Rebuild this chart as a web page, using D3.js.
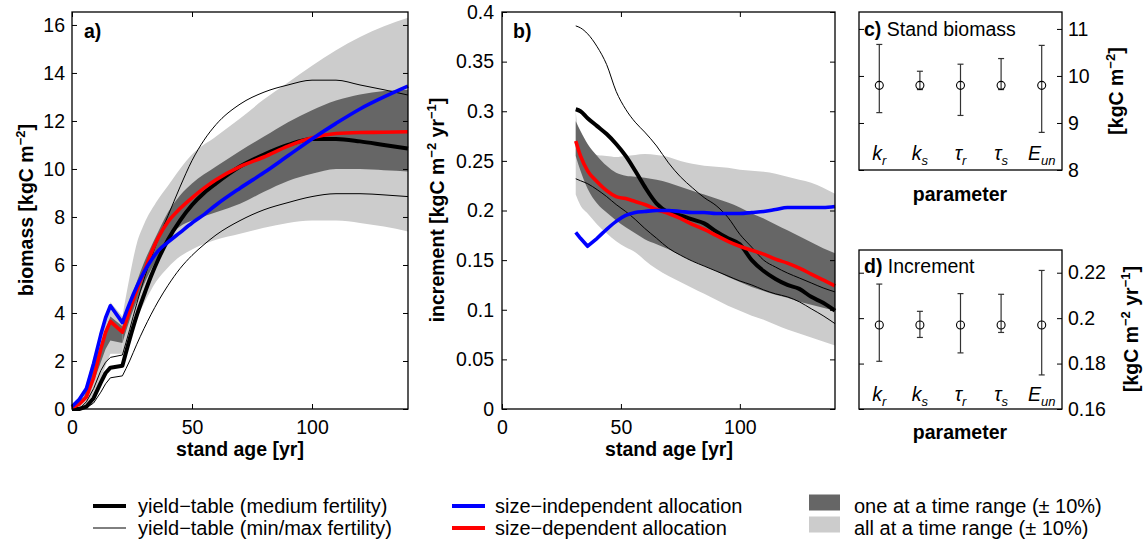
<!DOCTYPE html>
<html><head><meta charset="utf-8">
<script src="https://cdn.jsdelivr.net/npm/d3@7"></script>
<style>body{margin:0;background:#fff}svg{display:block}</style>
</head><body>
<script>
// ---------------- DATA ----------------
// Panel a: biomass vs stand age
const agesA = [0,3,6,9,12,14,16,21,24,27,30,33,36,40,45,50,55,60,70,80,90,100,110,120,130,140];
const ytMedA = [0,0,0.1,0.45,1.1,1.5,1.72,1.8,2.9,3.9,4.75,5.55,6.25,7.05,7.85,8.5,9.0,9.4,10.1,10.6,11.0,11.25,11.25,11.15,11.0,10.85];
const ytMaxA = [0,0,0.3,0.85,1.6,1.95,2.15,2.25,3.3,4.4,5.4,6.3,7.1,8.05,9.25,10.35,11.2,11.85,12.7,13.2,13.5,13.7,13.7,13.5,13.3,13.08];
const ytMinA = [0,0,0.05,0.25,0.7,1.05,1.3,1.38,2.0,2.7,3.35,3.95,4.5,5.15,5.85,6.4,6.85,7.25,7.85,8.3,8.6,8.85,8.97,8.97,8.92,8.85];
const sizeIndepA = [0.1,0.4,0.85,1.9,3.1,3.8,4.3,3.6,4.4,5.1,5.7,6.2,6.6,6.95,7.35,7.75,8.1,8.5,9.2,9.85,10.55,11.25,11.9,12.5,13.0,13.45];
const sizeDepA = [0.05,0.2,0.5,1.3,2.5,3.2,3.65,3.2,4.1,4.95,5.7,6.5,7.15,7.8,8.35,8.8,9.2,9.55,10.1,10.5,10.95,11.3,11.48,11.52,11.53,11.55];
const bandAgesA = [0,5,10,14,16,21,24,27,30,35,40,45,50,60,70,80,90,100,110,120,130,140];
const allTopA = [0.2,0.7,2.5,3.9,4.45,3.85,5.5,6.9,7.7,8.6,9.3,10.0,10.6,11.35,12.1,12.9,13.6,14.3,14.95,15.5,15.95,16.3];
const allBotA = [0,0.1,0.7,1.8,2.3,2.3,3.0,3.8,4.4,5.3,5.9,6.35,6.65,7.05,7.3,7.55,7.75,7.85,7.85,7.75,7.6,7.4];
const oneTopA = [0.1,0.5,2.1,3.3,3.85,3.45,4.4,5.3,6.1,7.2,8.2,8.9,9.4,10.1,10.75,11.35,11.95,12.45,12.85,13.1,13.25,13.3];
const oneBotA = [0.05,0.3,1.4,2.5,2.85,2.75,3.7,4.5,5.2,6.2,7.1,7.6,7.85,8.2,8.55,9.05,9.5,9.8,10.0,10.0,9.95,9.9];

// Panel b: increment vs stand age
const agesB = [31,33,36,40,44,48,52,56,60,65,70,75,80,85,90,95,100,105,110,115,120,125,130,135,140];
const ytMedB = [0.302,0.300,0.293,0.285,0.277,0.267,0.255,0.240,0.224,0.207,0.198,0.195,0.191,0.187,0.179,0.172,0.166,0.150,0.139,0.131,0.125,0.121,0.113,0.107,0.099];
const ytMaxB = [0.386,0.384,0.378,0.365,0.347,0.320,0.302,0.289,0.279,0.265,0.248,0.234,0.223,0.213,0.205,0.193,0.176,0.163,0.150,0.143,0.137,0.132,0.127,0.122,0.118];
const ytMinB = [0.232,0.230,0.227,0.221,0.214,0.206,0.199,0.191,0.182,0.172,0.162,0.155,0.149,0.144,0.139,0.134,0.129,0.125,0.120,0.116,0.113,0.108,0.101,0.094,0.086];
const sizeDepB = [0.270,0.255,0.240,0.229,0.220,0.214,0.212,0.209,0.206,0.201,0.197,0.192,0.186,0.181,0.175,0.169,0.164,0.160,0.156,0.151,0.147,0.142,0.136,0.130,0.124];
const sizeIndepB = [0.178,0.172,0.164,0.172,0.181,0.189,0.195,0.198,0.199,0.200,0.200,0.199,0.198,0.198,0.197,0.197,0.197,0.198,0.199,0.201,0.203,0.203,0.203,0.203,0.204];
const allTopB = [0.300,0.266,0.259,0.256,0.255,0.254,0.255,0.256,0.257,0.256,0.254,0.250,0.247,0.245,0.244,0.243,0.241,0.240,0.239,0.237,0.234,0.231,0.228,0.223,0.217];
const allBotB = [0.216,0.205,0.197,0.186,0.177,0.169,0.163,0.158,0.150,0.141,0.134,0.128,0.122,0.116,0.110,0.104,0.099,0.094,0.090,0.085,0.080,0.076,0.072,0.068,0.064];
const oneTopB = [0.290,0.280,0.267,0.255,0.245,0.238,0.235,0.234,0.233,0.231,0.228,0.224,0.220,0.216,0.212,0.208,0.203,0.197,0.192,0.186,0.180,0.174,0.168,0.162,0.157];
const oneBotB = [0.255,0.240,0.222,0.207,0.198,0.190,0.183,0.177,0.171,0.166,0.161,0.155,0.149,0.144,0.139,0.133,0.128,0.123,0.119,0.115,0.112,0.108,0.105,0.102,0.099];

// Panels c, d: parameter sensitivity
const paramBase = ["k","k","\u03C4","\u03C4","E"];
const paramSub = ["r","s","r","s","un"];
const bioMean = [9.80,9.80,9.80,9.80,9.80];
const bioLow = [9.22,9.71,9.16,9.71,8.80];
const bioHigh = [10.67,10.10,10.25,10.37,10.65];
const incMean = [0.197,0.197,0.197,0.197,0.197];
const incLow = [0.181,0.1915,0.1847,0.1937,0.175];
const incHigh = [0.215,0.203,0.2108,0.2105,0.221];

// Ticks
const ageTicks = [0,50,100];
const bioTicks = [0,2,4,6,8,10,12,14,16];
const incTicks = [0,0.05,0.1,0.15,0.2,0.25,0.3,0.35,0.4];
const cTicks = [8,9,10,11];
const dTicks = [0.16,0.18,0.2,0.22];

// Legend
const legendLines = [
  {label:"yield\u2212table (medium fertility)", color:"#000", w:4},
  {label:"yield\u2212table (min/max fertility)", color:"#000", w:1},
  {label:"size\u2212independent allocation", color:"#0000ff", w:4},
  {label:"size\u2212dependent allocation", color:"#ff0000", w:4}
];
const legendPatches = [
  {label:"one at a time range (\u00B1 10%)", color:"#666666"},
  {label:"all at a time range (\u00B1 10%)", color:"#cccccc"}
];

// ---------------- DRAW ----------------
const FONT = "'Liberation Sans', Arial, Helvetica, sans-serif";
const FS = 19.5;
const svg = d3.select("body").append("svg").attr("width",1145).attr("height",543)
  .style("font-family", FONT);

const fmtNum = d => String(+d.toFixed(3));
const DARK = "#666666", LIGHT = "#cccccc";

function frame(x, y, opts) {
  const g = svg.append("g");
  const [x0,x1] = x.range(), [y0,y1] = y.range();
  if (opts.left) {
    const ax = g.append("g").attr("transform",`translate(${x0},0)`)
      .call(d3.axisLeft(y).tickValues(opts.yTicks).tickSize(-5).tickSizeOuter(0).tickPadding(opts.yPad||7).tickFormat(fmtNum));
    ax.select(".domain").remove();
    g.append("g").attr("transform",`translate(${x1},0)`)
      .call(d3.axisRight(y).tickValues(opts.yTicks).tickSize(-5).tickSizeOuter(0).tickFormat(""))
      .select(".domain").remove();
  } else {
    const ax = g.append("g").attr("transform",`translate(${x1},0)`)
      .call(d3.axisRight(y).tickValues(opts.yTicks).tickSize(-5).tickSizeOuter(0).tickPadding(opts.yPad||6).tickFormat(fmtNum));
    ax.select(".domain").remove();
    g.append("g").attr("transform",`translate(${x0},0)`)
      .call(d3.axisLeft(y).tickValues(opts.yTicks).tickSize(-5).tickSizeOuter(0).tickFormat(""))
      .select(".domain").remove();
  }
  if (opts.xTicks) {
    const bx = g.append("g").attr("transform",`translate(0,${y0})`)
      .call(d3.axisBottom(x).tickValues(opts.xTicks).tickSize(-5).tickSizeOuter(0).tickPadding(11).tickFormat(fmtNum));
    bx.select(".domain").remove();
    g.append("g").attr("transform",`translate(0,${y1})`)
      .call(d3.axisTop(x).tickValues(opts.xTicks).tickSize(-5).tickSizeOuter(0).tickFormat(""))
      .select(".domain").remove();
  }
  g.selectAll(".tick line").attr("stroke","#000").attr("stroke-width",1);
  g.selectAll(".tick text").attr("font-size",FS).attr("font-family",FONT).attr("fill","#000");
  g.append("rect").attr("x",x0).attr("y",y1).attr("width",x1-x0).attr("height",y0-y1)
    .attr("fill","none").attr("stroke","#000").attr("stroke-width",1.3);
  return g;
}

// split: indices [0..split] drawn straight (sharp kinks), [split..] smooth
function band(x, y, ages, lo, hi, color, split) {
  const mk = c => d3.area().x(i=>x(ages[i])).y0(i=>y(lo[i])).y1(i=>y(hi[i])).curve(c);
  const idx = d3.range(ages.length);
  const s = split || 0;
  if (s > 0) svg.append("path").attr("d", mk(d3.curveLinear)(idx.slice(0, s+1))).attr("fill", color);
  svg.append("path").attr("d", mk(d3.curveMonotoneX)(idx.slice(s))).attr("fill", color);
}
function line(x, y, ages, vals, color, w, split, linearAll) {
  const mk = c => d3.line().x(i=>x(ages[i])).y(i=>y(vals[i])).curve(c);
  const idx = d3.range(ages.length);
  let d;
  if (linearAll) d = mk(d3.curveLinear)(idx);
  else if (split) {
    const a = mk(d3.curveLinear)(idx.slice(0, split+1));
    const b = mk(d3.curveMonotoneX)(idx.slice(split)).replace(/^M[^LC]*/, "");
    d = a + b;
  } else d = mk(d3.curveMonotoneX)(idx);
  svg.append("path").attr("d", d).attr("fill","none").attr("stroke",color)
    .attr("stroke-width",w).attr("stroke-linejoin","round").attr("stroke-linecap","butt");
}

// Panel a
const xA = d3.scaleLinear().domain([0,140]).range([72,408]);
const yA = d3.scaleLinear().domain([0,16.54]).range([409,12]);
band(xA,yA,bandAgesA,allBotA,allTopA,LIGHT,5);
band(xA,yA,bandAgesA,oneBotA,oneTopA,DARK,5);
line(xA,yA,agesA,ytMaxA,"#000",1,7);
line(xA,yA,agesA,ytMinA,"#000",1,7);
line(xA,yA,agesA,ytMedA,"#000",4,7);
line(xA,yA,agesA,sizeDepA,"#ff0000",3.6,7);
line(xA,yA,agesA,sizeIndepA,"#0000ff",3.6,7);
frame(xA,yA,{left:true,yTicks:bioTicks,xTicks:ageTicks,yPad:7});

// Panel b
const xB = d3.scaleLinear().domain([0,140]).range([502,835]);
const yB = d3.scaleLinear().domain([0,0.4]).range([409,12]);
band(xB,yB,agesB,allBotB,allTopB,LIGHT);
band(xB,yB,agesB,oneBotB,oneTopB,DARK);
line(xB,yB,agesB,ytMaxB,"#000",1);
line(xB,yB,agesB,ytMinB,"#000",1);
line(xB,yB,agesB,ytMedB,"#000",4);
line(xB,yB,agesB,sizeDepB,"#ff0000",3.6);
line(xB,yB,agesB,sizeIndepB,"#0000ff",3.6,3);
frame(xB,yB,{left:true,yTicks:incTicks,xTicks:ageTicks,yPad:8});

// Panels c, d
const xP = d3.scaleLinear().domain([0.5,5.5]).range([859,1062]);
const yC = d3.scaleLinear().domain([8,11.36]).range([170,12]);
const yD = d3.scaleLinear().domain([0.16,0.23]).range([409,250]);

function errPanel(y, mean, lo, hi, labelBaseline) {
  const idx = d3.range(mean.length);
  const g = svg.append("g");
  g.selectAll("line.bar").data(idx).join("line").attr("class","bar")
    .attr("x1",i=>xP(i+1)).attr("x2",i=>xP(i+1)).attr("y1",i=>y(lo[i])).attr("y2",i=>y(hi[i]))
    .attr("stroke","#333").attr("stroke-width",1.2);
  [lo,hi].forEach(arr=>{
    g.selectAll(null).data(idx).join("line")
      .attr("x1",i=>xP(i+1)-3).attr("x2",i=>xP(i+1)+3).attr("y1",i=>y(arr[i])).attr("y2",i=>y(arr[i]))
      .attr("stroke","#333").attr("stroke-width",1.2);
  });
  g.selectAll("circle").data(idx).join("circle")
    .attr("cx",i=>xP(i+1)).attr("cy",i=>y(mean[i])).attr("r",4)
    .attr("fill","none").attr("stroke","#000").attr("stroke-width",1.1);
  const t = g.selectAll("text.plab").data(idx).join("text").attr("class","plab")
    .attr("x",i=>xP(i+1)).attr("y",labelBaseline).attr("text-anchor","middle")
    .attr("font-size",FS).attr("font-style","italic");
  t.append("tspan").text(i=>paramBase[i]);
  t.append("tspan").attr("font-size",13).attr("dy",5).text(i=>paramSub[i]);
}
errPanel(yC,bioMean,bioLow,bioHigh,160);
frame(xP,yC,{left:false,yTicks:cTicks,yPad:6});
errPanel(yD,incMean,incLow,incHigh,401);
frame(xP,yD,{left:false,yTicks:dTicks,yPad:6});

// Texts
function txt(x,y,s,o={}) {
  return svg.append("text").attr("x",x).attr("y",y).attr("font-size",o.fs||FS)
    .attr("font-weight",o.bold?"bold":"normal").attr("text-anchor",o.anchor||"start").text(s);
}
txt(84,38,"a)",{bold:true});
txt(513,38,"b)",{bold:true});
const tc = txt(864,36,"c)",{bold:true}); tc.append("tspan").attr("font-weight","normal").text(" Stand biomass");
const td = txt(864,273,"d)",{bold:true}); td.append("tspan").attr("font-weight","normal").text(" Increment");

txt(240,456,"stand age [yr]",{bold:true,anchor:"middle"});
txt(669,456,"stand age [yr]",{bold:true,anchor:"middle"});
txt(960,201,"parameter",{bold:true,anchor:"middle"});
txt(960,439,"parameter",{bold:true,anchor:"middle"});

function rotLabel(x,y,parts) {
  const t = svg.append("text").attr("transform",`translate(${x},${y}) rotate(-90)`)
    .attr("text-anchor","middle").attr("font-size",FS).attr("font-weight","bold");
  parts.forEach(p=>{
    const s = t.append("tspan").text(p.t);
    if (p.sup) s.attr("font-size",13).attr("dy",-8);
    if (p.down) s.attr("dy",8);
  });
}
rotLabel(33,210,[{t:"biomass [kgC m"},{t:"\u22122",sup:true},{t:"]",down:true}]);
rotLabel(444,210,[{t:"increment [kgC m"},{t:"\u22122",sup:true},{t:" yr",down:true},{t:"\u22121",sup:true},{t:"]",down:true}]);
rotLabel(1123,91,[{t:"[kgC m"},{t:"\u22122",sup:true},{t:"]",down:true}]);
rotLabel(1138,329,[{t:"[kgC m"},{t:"\u22122",sup:true},{t:" yr",down:true},{t:"\u22121",sup:true},{t:"]",down:true}]);

// Legend
const legCols = [{lx:93,tx:138},{lx:452,tx:495}];
const rowY = [506,528];
legendLines.forEach((d,i)=>{
  const c = legCols[Math.floor(i/2)], yy = rowY[i%2];
  svg.append("line").attr("x1",c.lx).attr("x2",c.lx+33).attr("y1",yy).attr("y2",yy)
    .attr("stroke",d.color).attr("stroke-width",d.w);
  svg.append("text").attr("x",c.tx).attr("y",yy+6.5).attr("font-size",20).text(d.label);
});
legendPatches.forEach((d,i)=>{
  const yy = rowY[i]-3.5;
  svg.append("rect").attr("x",809).attr("y",yy-8).attr("width",31).attr("height",16).attr("fill",d.color);
  svg.append("text").attr("x",854).attr("y",rowY[i]+6.5).attr("font-size",20).text(d.label);
});
</script>
</body></html>
